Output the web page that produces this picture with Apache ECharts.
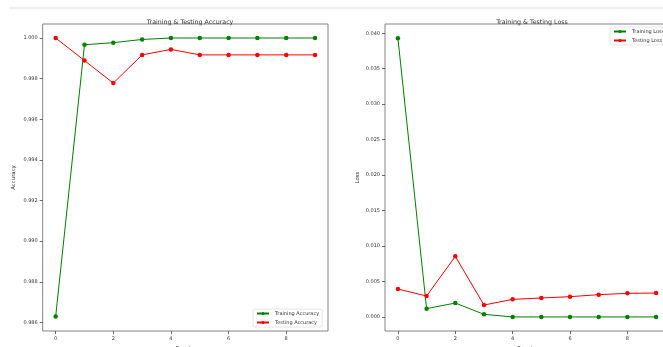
<!DOCTYPE html>
<html><head><meta charset="utf-8">
<script src="https://cdn.jsdelivr.net/npm/echarts@6/dist/echarts.min.js"></script>
<style>html,body{margin:0;padding:0;background:#fff}#c{width:663px;height:347px}</style>
</head><body><div id="c"></div>
<script>
const epochs = [0,1,2,3,4,5,6,7,8,9];
const trainAcc = [0.98629,0.99967,0.99977,0.99993,1.0,1.0,1.0,1.0,1.0,1.0];
const testAcc = [1.0,0.99889,0.99778,0.99917,0.99944,0.99917,0.99917,0.99917,0.99917,0.99917];
const trainLoss = [0.0393,0.00118,0.00197,0.00038,0.00001,0.00001,0.00001,0.00001,0.00001,0.00001];
const testLoss = [0.00394,0.00296,0.00855,0.00169,0.00249,0.00268,0.00287,0.00315,0.00334,0.00338];
const xTicks = [0,2,4,6,8];
const accTicks = [0.986,0.988,0.990,0.992,0.994,0.996,0.998,1.000];
const lossTicks = [0.000,0.005,0.010,0.015,0.020,0.025,0.030,0.035,0.040];

const FONT = 'DejaVu Sans';
const TXT = '#333';
function pairs(v){ return epochs.map((e,i)=>[e,v[i]]); }
function xAxis(idx){
  return {type:'value', gridIndex:idx, min:-0.45, max:9.45,
    name:'Epochs', nameLocation:'middle', nameGap:15,
    nameTextStyle:{fontFamily:FONT,fontSize:5.4,color:TXT},
    splitLine:{show:false}, axisLine:{show:false, onZero:false},
    axisTick:{show:true, length:3, lineStyle:{color:'#444',width:0.8}, customValues:xTicks},
    axisLabel:{fontFamily:FONT,fontSize:5,color:TXT,margin:5,customValues:xTicks, formatter:v=>String(v)}};
}
function yAxis(idx,min,max,ticks,name,gap){
  return {type:'value', gridIndex:idx, min:min, max:max,
    name:name, nameLocation:'middle', nameGap:gap, nameRotate:90,
    nameTextStyle:{fontFamily:FONT,fontSize:5.4,color:TXT},
    splitLine:{show:false}, axisLine:{show:false, onZero:false},
    axisTick:{show:true, length:3, lineStyle:{color:'#444',width:0.8}, customValues:ticks},
    axisLabel:{fontFamily:FONT,fontSize:5,color:TXT,margin:5,customValues:ticks, formatter:v=>v.toFixed(3)}};
}
function series(name,data,color,xi){
  return {type:'line', name:name, xAxisIndex:xi, yAxisIndex:xi, data:pairs(data),
    symbol:'circle', symbolSize:4.5, showSymbol:true,
    lineStyle:{color:color,width:1}, itemStyle:{color:color}, animation:false};
}
const chart = echarts.init(document.getElementById('c'));
chart.setOption({
  animation:false,
  backgroundColor:'#fff',
  title:[
    {text:'Training & Testing Accuracy', left:185, top:14, textAlign:'center',
     textStyle:{fontFamily:FONT,fontSize:6.3,fontWeight:'normal',color:TXT}},
    {text:'Training & Testing Loss', left:527, top:14, textAlign:'center',
     textStyle:{fontFamily:FONT,fontSize:6.3,fontWeight:'normal',color:TXT}}
  ],
  grid:[
    {left:42.7, top:24, width:285.3, height:307, outerBoundsMode:'none', containLabel:false, show:true, borderColor:'#777', borderWidth:0.9, backgroundColor:'transparent'},
    {left:385, top:24, width:284, height:307, outerBoundsMode:'none', containLabel:false, show:true, borderColor:'#777', borderWidth:0.9, backgroundColor:'transparent'}
  ],
  xAxis:[xAxis(0), xAxis(1)],
  yAxis:[yAxis(0,0.98558,1.00069,accTicks,'Accuracy',27), yAxis(1,-0.00197,0.0413,lossTicks,'Loss',25)],
  legend:[
    {data:['Training Accuracy','Testing Accuracy'], orient:'vertical', left:253, top:309,
     itemWidth:12, itemHeight:4, itemGap:4, padding:[2,3,2,3],
     borderColor:'#ddd', borderWidth:0.8, borderRadius:2, backgroundColor:'#fff',
     textStyle:{fontFamily:FONT,fontSize:5,color:TXT,padding:[0,0,0,1]}},
    {data:['Training Loss','Testing Loss'], orient:'vertical', left:610, top:27,
     itemWidth:12, itemHeight:4, itemGap:4, padding:[2,3,2,3],
     borderColor:'#ddd', borderWidth:0.8, borderRadius:2, backgroundColor:'#fff',
     textStyle:{fontFamily:FONT,fontSize:5,color:TXT,padding:[0,0,0,1]}}
  ],
  graphic:[{type:'line', shape:{x1:9,y1:8,x2:663,y2:8}, style:{stroke:'#ddd',lineWidth:1}}],
  series:[
    series('Training Accuracy',trainAcc,'#008000',0),
    series('Testing Accuracy',testAcc,'#ff0000',0),
    series('Training Loss',trainLoss,'#008000',1),
    series('Testing Loss',testLoss,'#ff0000',1)
  ]
});
</script></body></html>
